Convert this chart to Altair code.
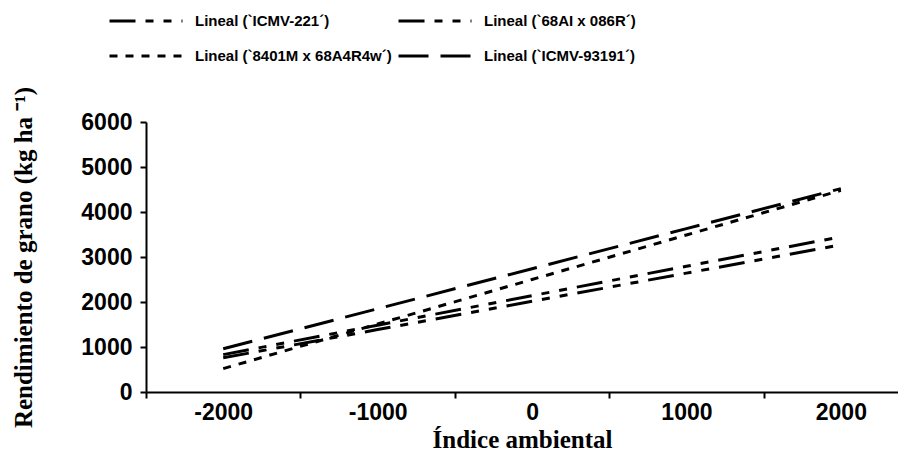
import altair as alt
import pandas as pd

x_vals = [-2000, -1000, 0, 1000, 2000]
series_names = [
    "Lineal (`ICMV-221´)",
    "Lineal (`8401M x 68A4R4w´)",
    "Lineal (`68AI x 086R´)",
    "Lineal (`ICMV-93191´)",
]
icmv221 = [830, 1485, 2140, 2795, 3450]
m8401 = [520, 1510, 2500, 3490, 4480]
ai68 = [760, 1387, 2015, 2642, 3270]
icmv93191 = [960, 1850, 2740, 3630, 4520]

x_axis_values = [-2500, -2000, -1500, -1000, -500, 0, 500, 1000, 1500, 2000]
y_axis_values = [0, 1000, 2000, 3000, 4000, 5000, 6000]

series_values = [icmv221, m8401, ai68, icmv93191]
rows = []
for name, vals in zip(series_names, series_values):
    for xv, yv in zip(x_vals, vals):
        rows.append({"indice": xv, "rend": yv, "serie": name})
df = pd.DataFrame(rows)

dashes = [[26, 10, 8, 10, 8, 10], [8, 8], [26, 10, 8, 10, 8, 10], [30, 12]]

chart = alt.Chart(df).mark_line(strokeWidth=3, color="black").encode(
    x=alt.X("indice:Q",
            scale=alt.Scale(domain=[-2500, 2370], nice=False, zero=False),
            axis=alt.Axis(title="Índice ambiental", values=x_axis_values,
                          labelExpr="datum.value % 1000 == 0 ? '' + datum.value : ''",
                          tickOpacity={"condition": {"test": "datum.value % 1000 == 0", "value": 0}, "value": 1},
                          labelAngle=0, labelFlush=False, labelOverlap=False,
                          titleFont="Liberation Serif", titleFontSize=25, titleFontWeight="bold",
                          titleColor="black", titlePadding=3,
                          labelFont="Liberation Sans", labelFontSize=23, labelFontWeight="bold",
                          labelColor="black", labelPadding=3,
                          domainColor="black", domainWidth=2, tickColor="black", tickWidth=2,
                          tickSize=6, grid=False)),
    y=alt.Y("rend:Q",
            scale=alt.Scale(domain=[0, 6000], nice=False),
            axis=alt.Axis(title="Rendimiento de grano (kg ha ⁻¹)", values=y_axis_values, format="d",
                          titleFont="Liberation Serif", titleFontSize=25, titleFontWeight="bold",
                          titleColor="black", titlePadding=44,
                          labelFont="Liberation Sans", labelFontSize=23, labelFontWeight="bold",
                          labelColor="black", labelPadding=8,
                          domainColor="black", domainWidth=2, tickColor="black", tickWidth=2,
                          tickSize=6, grid=False)),
    strokeDash=alt.StrokeDash("serie:N",
                              scale=alt.Scale(domain=series_names, range=dashes),
                              legend=alt.Legend(title=None, orient="none", legendX=-9, legendY=-110,
                                                columns=2, symbolType="M-5,0H5", symbolSize=213,
                                                symbolStrokeWidth=3, symbolStrokeColor="black",
                                                labelFont="Liberation Sans", labelFontSize=15,
                                                labelFontWeight="bold", labelColor="black",
                                                labelOffset=40, columnPadding=0, rowPadding=18,
                                                labelLimit=400)),
).properties(
    width=752, height=270,
    padding={"left": 138, "top": 114, "right": 0, "bottom": 60},
    autosize=alt.AutoSizeParams(type="none"),
).configure_view(stroke=None)

chart.save("out.html", embed_options={"renderer": "svg", "actions": False})
